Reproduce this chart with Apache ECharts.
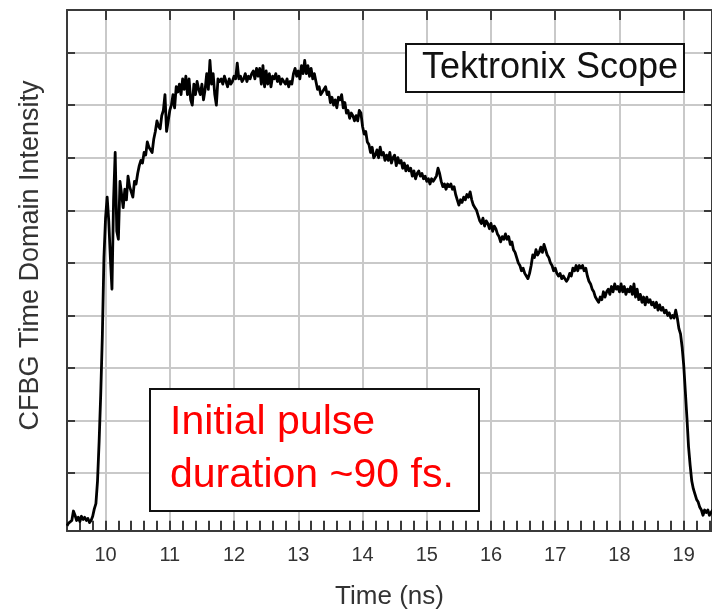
<!DOCTYPE html>
<html>
<head>
<meta charset="utf-8">
<title>CFBG Time Domain Intensity</title>
<script src="https://cdn.jsdelivr.net/npm/echarts@6/dist/echarts.min.js"></script>
<style>
  html, body { margin: 0; padding: 0; background: #ffffff; }
  #chart { width: 712px; height: 615px; }
</style>
</head>
<body>
<div id="chart"></div>
<script>
// Scope record: first sample time and sample spacing (ns)
const T0 = 9.4;
const DT = 0.025;

// CFBG time-domain intensity, one value per sample (grid divisions)
const intensity = [
  0.00, 0.05, 0.02, 0.10, 0.28, 0.20, 0.10, 0.16, 0.08, 0.18, 0.12, 0.16, 0.10, 0.14, 0.06, 0.10, 0.18, 0.32, 0.42, 0.85,
  1.60, 2.50, 3.60, 5.10, 5.85, 6.25, 5.80, 5.10, 4.50, 6.20, 7.10, 5.60, 5.45, 6.55, 6.30, 6.05, 6.40, 6.20, 6.65, 6.45,
  6.35, 6.25, 6.55, 6.50, 6.70, 6.85, 6.95, 6.90, 7.10, 7.05, 7.30, 7.20, 7.15, 7.10, 7.35, 7.50, 7.70, 7.60, 7.55, 7.80,
  7.90, 8.20, 7.50, 7.70, 7.90, 8.00, 8.20, 7.95, 8.35, 8.25, 8.40, 8.20, 8.50, 8.30, 8.55, 8.20, 8.50, 8.10, 8.00, 8.40,
  8.20, 8.45, 8.30, 8.20, 8.40, 8.10, 8.30, 8.60, 8.30, 8.85, 8.40, 8.60, 8.20, 8.00, 8.50, 8.45, 8.50, 8.40, 8.55, 8.45,
  8.35, 8.50, 8.40, 8.45, 8.55, 8.50, 8.80, 8.50, 8.55, 8.45, 8.50, 8.60, 8.45, 8.55, 8.50, 8.60, 8.65, 8.50, 8.70, 8.55,
  8.70, 8.40, 8.75, 8.35, 8.65, 8.40, 8.60, 8.35, 8.55, 8.50, 8.60, 8.45, 8.55, 8.40, 8.50, 8.45, 8.40, 8.50, 8.35, 8.45,
  8.40, 8.60, 8.70, 8.55, 8.65, 8.50, 8.75, 8.60, 8.85, 8.60, 8.75, 8.55, 8.70, 8.50, 8.60, 8.45, 8.30, 8.35, 8.20, 8.25,
  8.25, 8.35, 8.20, 8.25, 8.05, 8.15, 8.00, 8.10, 7.95, 8.15, 8.10, 8.20, 7.95, 8.05, 7.85, 7.90, 7.75, 7.85, 7.80, 7.70,
  7.80, 7.70, 7.90, 7.85, 7.60, 7.45, 7.50, 7.30, 7.25, 7.10, 7.20, 7.00, 7.05, 7.15, 7.00, 7.20, 7.05, 7.10, 6.95, 7.05,
  6.95, 7.10, 6.90, 7.00, 7.05, 6.85, 7.00, 6.90, 6.95, 6.80, 6.90, 6.75, 6.85, 6.75, 6.80, 6.65, 6.75, 6.60, 6.70, 6.75,
  6.65, 6.70, 6.60, 6.65, 6.55, 6.60, 6.50, 6.60, 6.55, 6.60, 6.65, 6.80, 6.70, 6.55, 6.45, 6.50, 6.40, 6.50, 6.45, 6.50,
  6.40, 6.45, 6.30, 6.20, 6.10, 6.20, 6.15, 6.25, 6.20, 6.30, 6.25, 6.35, 6.20, 6.10, 6.05, 6.00, 5.90, 5.80, 5.75, 5.85,
  5.70, 5.80, 5.75, 5.65, 5.75, 5.60, 5.70, 5.65, 5.55, 5.50, 5.40, 5.50, 5.45, 5.55, 5.45, 5.50, 5.35, 5.40, 5.25, 5.20,
  5.10, 5.00, 4.95, 4.85, 4.90, 4.80, 4.75, 4.70, 4.80, 4.95, 5.15, 5.10, 5.25, 5.15, 5.20, 5.30, 5.20, 5.35, 5.25, 5.15,
  5.10, 5.00, 4.95, 4.85, 4.90, 4.80, 4.75, 4.80, 4.70, 4.75, 4.70, 4.65, 4.70, 4.80, 4.75, 4.90, 4.85, 4.95, 4.85, 4.95,
  4.90, 4.95, 4.85, 4.90, 4.75, 4.65, 4.60, 4.50, 4.45, 4.35, 4.30, 4.25, 4.35, 4.30, 4.45, 4.35, 4.45, 4.50, 4.40, 4.55,
  4.45, 4.60, 4.50, 4.55, 4.45, 4.60, 4.45, 4.55, 4.40, 4.50, 4.45, 4.55, 4.40, 4.60, 4.35, 4.50, 4.30, 4.40, 4.25, 4.35,
  4.20, 4.35, 4.25, 4.30, 4.20, 4.25, 4.15, 4.25, 4.10, 4.20, 4.10, 4.15, 4.05, 4.10, 4.00, 4.05, 3.95, 4.00, 3.95, 4.10,
  3.95, 3.75, 3.65, 3.40, 3.05, 2.55, 2.05, 1.50, 1.15, 0.85, 0.70, 0.60, 0.50, 0.45, 0.35, 0.30, 0.20, 0.30, 0.25, 0.30,
  0.20, 0.25, 0.30
];

// Labelled time ticks (ns) and horizontal grid divisions
const timeTicks = [10, 11, 12, 13, 14, 15, 16, 17, 18, 19];
const intensityDivisions = [1, 2, 3, 4, 5, 6, 7, 8, 9];

const FONT = '"Liberation Sans", Arial, Helvetica, sans-serif';
const FRAME = '#3a3a3a';
const GRID = '#c9c9c9';

const trace = intensity.map((v, i) => [Number((T0 + i * DT).toFixed(3)), v]);

const xRange = { min: 9.4, max: 19.44 };
const yRange = { min: -0.1, max: 9.81 };

const chart = echarts.init(document.getElementById('chart'), null, { renderer: 'canvas' });

chart.setOption({
  animation: false,
  backgroundColor: '#ffffff',
  textStyle: { fontFamily: FONT },
  grid: { left: 67, top: 10, right: -3, bottom: 82, containLabel: false },
  title: [
    {
      text: 'Tektronix Scope',
      left: 406, top: 44,
      padding: [4, 6, 4, 16],
      backgroundColor: '#ffffff',
      borderColor: '#111111',
      borderWidth: 2,
      textStyle: { fontFamily: FONT, fontSize: 36, fontWeight: 'normal', color: '#111111', lineHeight: 40 }
    },
    {
      text: 'Initial pulse\nduration ~90 fs.',
      left: 150, top: 389,
      padding: [7, 25, 9, 20],
      backgroundColor: '#ffffff',
      borderColor: '#111111',
      borderWidth: 2,
      textStyle: { fontFamily: FONT, fontSize: 41, fontWeight: 'normal', color: '#ff0000', lineHeight: 53 }
    }
  ],
  xAxis: [
    {
      type: 'value', position: 'bottom', min: xRange.min, max: xRange.max,
      name: 'Time (ns)', nameLocation: 'middle', nameGap: 53,
      nameTextStyle: { fontFamily: FONT, fontSize: 26, color: '#333333' },
      axisLine: { show: true, onZero: false, lineStyle: { color: FRAME, width: 2 } },
      axisTick: { show: true, inside: true, length: 10, customValues: timeTicks, lineStyle: { color: FRAME, width: 2 } },
      axisLabel: { show: true, customValues: timeTicks, margin: 14, fontFamily: FONT, fontSize: 20, color: '#333333' },
      splitLine: { show: true, lineStyle: { color: GRID, width: 2 } }
    },
    {
      type: 'value', position: 'bottom', min: xRange.min, max: xRange.max, interval: 0.2,
      axisLine: { show: false },
      axisTick: { show: true, inside: true, length: 5, lineStyle: { color: FRAME, width: 2 } },
      axisLabel: { show: false },
      splitLine: { show: false }
    },
    {
      type: 'value', position: 'top', min: xRange.min, max: xRange.max,
      axisLine: { show: true, onZero: false, lineStyle: { color: FRAME, width: 2 } },
      axisTick: { show: true, inside: true, length: 10, customValues: timeTicks, lineStyle: { color: FRAME, width: 2 } },
      axisLabel: { show: false },
      splitLine: { show: false }
    },
    {
      type: 'value', position: 'top', min: xRange.min, max: xRange.max, interval: 0.2,
      axisLine: { show: false },
      axisTick: { show: true, inside: true, length: 5, lineStyle: { color: FRAME, width: 2 } },
      axisLabel: { show: false },
      splitLine: { show: false }
    }
  ],
  yAxis: [
    {
      type: 'value', position: 'left', min: yRange.min, max: yRange.max,
      name: 'CFBG Time Domain Intensity', nameLocation: 'middle', nameGap: 23,
      nameTextStyle: { fontFamily: FONT, fontSize: 27, color: '#333333', padding: [0, 0, 0, 30] },
      axisLine: { show: true, onZero: false, lineStyle: { color: FRAME, width: 2 } },
      axisTick: { show: true, inside: true, length: 8, customValues: intensityDivisions, lineStyle: { color: FRAME, width: 2 } },
      axisLabel: { show: false, customValues: intensityDivisions },
      splitLine: { show: true, lineStyle: { color: GRID, width: 2 } }
    },
    {
      type: 'value', position: 'right', min: yRange.min, max: yRange.max,
      axisLine: { show: true, onZero: false, lineStyle: { color: FRAME, width: 2 } },
      axisTick: { show: true, inside: true, length: 8, customValues: intensityDivisions, lineStyle: { color: FRAME, width: 2 } },
      axisLabel: { show: false, customValues: intensityDivisions },
      splitLine: { show: false }
    }
  ],
  series: [
    {
      name: 'CFBG intensity',
      type: 'line',
      xAxisIndex: 0,
      yAxisIndex: 0,
      data: trace,
      showSymbol: false,
      symbol: 'none',
      clip: true,
      lineStyle: { color: '#000000', width: 2.8, join: 'round' },
      z: 3
    }
  ]
});
</script>
</body>
</html>
